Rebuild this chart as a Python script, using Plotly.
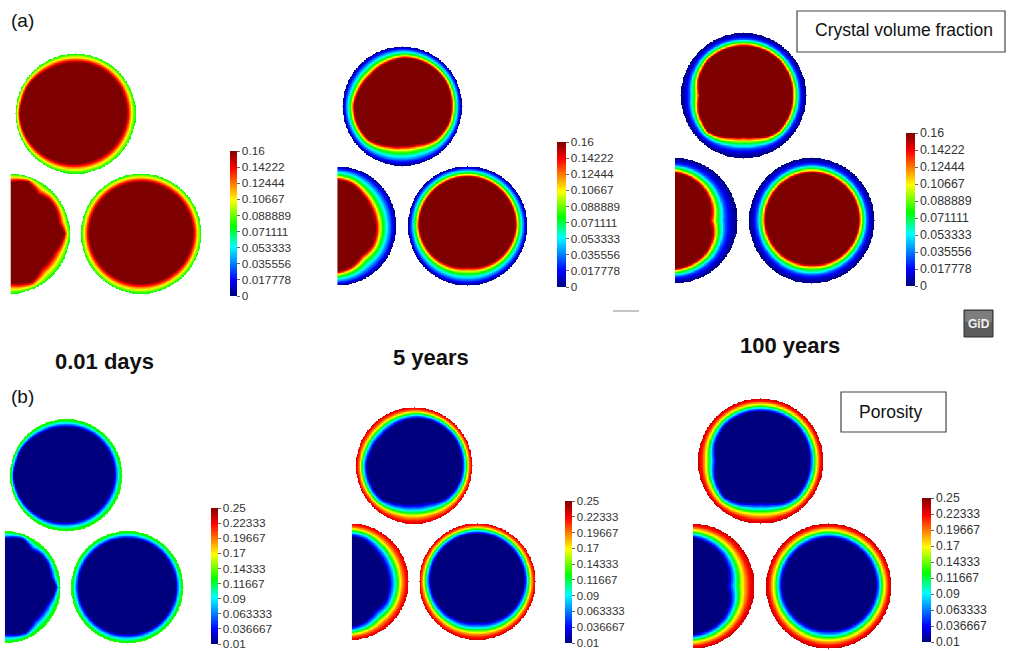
import numpy as np
import plotly.graph_objects as go

W, H = 1017, 651

# ---------------------------------------------------------------- data
TIME_LABELS = ["0.01 days", "5 years", "100 years"]

CRYSTAL_TICKS = [0, 0.017778, 0.035556, 0.053333, 0.071111,
                 0.088889, 0.10667, 0.12444, 0.14222, 0.16]
CRYSTAL_TICKTEXT = ["0", "0.017778", "0.035556", "0.053333", "0.071111",
                    "0.088889", "0.10667", "0.12444", "0.14222", "0.16"]
POROSITY_TICKS = [0.01, 0.036667, 0.063333, 0.09, 0.11667,
                  0.14333, 0.17, 0.19667, 0.22333, 0.25]
POROSITY_TICKTEXT = ["0.01", "0.036667", "0.063333", "0.09", "0.11667",
                     "0.14333", "0.17", "0.19667", "0.22333", "0.25"]

# reaction-rim thickness (fraction of grain radius) against polar angle (deg)
RIM_0_01D = {
    "top": ([0, 30, 60, 90, 120, 150, 165, 180, 210, 240, 270, 300, 330],
            [0.155, 0.145, 0.145, 0.155, 0.145, 0.09, 0.095, 0.075, 0.105, 0.145, 0.17, 0.175, 0.17]),
    "left": ([-90, -65, -48, -23, 0, 12, 30, 42, 54, 70, 90],
             [0.19, 0.12, 0.23, 0.205, 0.09, 0.17, 0.14, 0.145, 0.205, 0.09, 0.155]),
    "right": ([0, 90, 180, 270], [0.145, 0.145, 0.145, 0.17]),
}
RIM_5Y = {
    "top": ([0, 30, 60, 87, 110, 135, 160, 178, 200, 225, 250, 270, 290, 315, 340],
            [0.19, 0.175, 0.185, 0.195, 0.235, 0.265, 0.235, 0.2, 0.2, 0.215, 0.315, 0.35, 0.335, 0.23, 0.19]),
    "left": ([-90, -70, -50, -30, -10, 10, 30, 50, 70, 90],
             [0.235, 0.285, 0.365, 0.335, 0.35, 0.365, 0.365, 0.335, 0.265, 0.235]),
    "right": ([0, 90, 180, 225, 270, 315], [0.205, 0.185, 0.2, 0.25, 0.315, 0.25]),
}
RIM_100Y = {
    "top": ([0, 45, 90, 135, 160, 180, 200, 225, 240, 255, 270, 285, 300, 315],
            [0.23, 0.21, 0.215, 0.21, 0.25, 0.31, 0.25, 0.2, 0.255, 0.32, 0.345, 0.32, 0.255, 0.22]),
    "left": ([-90, -45, -20, 0, 20, 45, 90],
             [0.24, 0.305, 0.37, 0.45, 0.395, 0.335, 0.24]),
    "right": ([0, 90, 180, 270], [0.255, 0.24, 0.27, 0.305]),
}

# value across the rim: depth (0 = grain surface, 1 = inner rim front) -> value
CRYSTAL_PROFILE_0_01D = ([0, 0.2, 0.4, 0.7, 1.0], [0.075, 0.09, 0.105, 0.135, 0.16])
CRYSTAL_PROFILE_5Y = ([0, 0.15, 0.35, 0.5, 0.65, 0.77, 0.9, 1.0],
                      [0.0, 0.015, 0.04, 0.06, 0.08, 0.105, 0.14, 0.16])
CRYSTAL_PROFILE_100Y = ([0, 0.2, 0.45, 0.57, 0.7, 0.82, 0.92, 1.0],
                        [0.0, 0.008, 0.03, 0.055, 0.075, 0.105, 0.14, 0.16])
POROSITY_PROFILE_0_01D = ([0, 0.25, 0.5, 0.75, 1.0], [0.135, 0.12, 0.085, 0.045, 0.01])
POROSITY_PROFILE_5Y = ([0, 0.15, 0.3, 0.4, 0.5, 0.62, 0.75, 0.88, 1.0],
                       [0.23, 0.215, 0.19, 0.165, 0.135, 0.1, 0.065, 0.035, 0.01])
POROSITY_PROFILE_100Y = ([0, 0.2, 0.33, 0.45, 0.55, 0.67, 0.8, 0.92, 1.0],
                         [0.235, 0.215, 0.19, 0.165, 0.135, 0.1, 0.06, 0.03, 0.01])

# ---------------------------------------------------------------- styling
JET = [[0.0, "#00007f"], [0.11, "#0000ff"], [0.34, "#00ffff"], [0.48, "#00ff00"],
       [0.66, "#ffff00"], [0.88, "#ff0000"], [1.0, "#7f0000"]]
FONT = "Liberation Sans, Arial, sans-serif"

# grain centres in units of the grain radius
GRAIN_CENTRES = {"top": (0.0, 0.0), "left": (-1.10, -2.0), "right": (1.09, -2.0)}

# panel placement: top grain centre (px), radius (px), left clip (radius units)
PANELS = [
    dict(cx=75.5, cy=113.5, R=60.0, xlo=-1.08, rim=RIM_0_01D, prof=CRYSTAL_PROFILE_0_01D, var="c"),
    dict(cx=402.5, cy=106.5, R=59.7, xlo=-1.09, rim=RIM_5Y, prof=CRYSTAL_PROFILE_5Y, var="c"),
    dict(cx=743.5, cy=95.5, R=62.5, xlo=-1.096, rim=RIM_100Y, prof=CRYSTAL_PROFILE_100Y, var="c"),
    dict(cx=66.0, cy=475.0, R=56.0, xlo=-1.09, rim=RIM_0_01D, prof=POROSITY_PROFILE_0_01D, var="p"),
    dict(cx=414.0, cy=465.5, R=58.0, xlo=-1.07, rim=RIM_5Y, prof=POROSITY_PROFILE_5Y, var="p"),
    dict(cx=760.5, cy=461.0, R=62.5, xlo=-1.08, rim=RIM_100Y, prof=POROSITY_PROFILE_100Y, var="p"),
]
# colour bars: left (px), top (px), length (px), thickness (px), label size
COLORBARS = [
    (230, 151, 145, 7, 11.8),
    (557, 142, 145, 9, 11.8),
    (906, 133, 153, 9, 12.4),
    (211, 508, 136, 6.5, 11.8),
    (565, 501, 142, 7, 11.5),
    (922, 498, 144, 9, 12.2),
]
XHI, YLO, YHI = 2.2, -3.02, 1.02


def grain_field(angles, rim, prof, n=181):
    g = np.linspace(-1.0, 1.0, n)
    X, Y = np.meshgrid(g, g)
    r = np.hypot(X, Y)
    theta = np.degrees(np.arctan2(Y, X)) % 360.0
    thick = np.interp(theta, angles, rim, period=360.0)
    depth = (1.0 - r) / thick
    z = np.interp(depth, prof[0], prof[1])
    z[r > 1.0] = np.nan
    return g, z.astype(np.float32)


fig = go.Figure()
layout_axes = {}

for k, p in enumerate(PANELS):
    idx = k + 1
    xs = "" if idx == 1 else str(idx)
    ca = "coloraxis" if idx == 1 else f"coloraxis{idx}"
    R = p["R"]
    x0px, x1px = p["cx"] + p["xlo"] * R, p["cx"] + XHI * R
    ytop, ybot = p["cy"] - YHI * R, p["cy"] - YLO * R
    layout_axes[f"xaxis{xs}"] = dict(domain=[x0px / W, x1px / W], range=[p["xlo"], XHI],
                                     visible=False, anchor=f"y{xs}")
    layout_axes[f"yaxis{xs}"] = dict(domain=[1 - ybot / H, 1 - ytop / H], range=[YLO, YHI],
                                     visible=False, anchor=f"x{xs}")
    for name, (gx, gy) in GRAIN_CENTRES.items():
        angles, rim = p["rim"][name]
        g, z = grain_field(angles, rim, p["prof"])
        fig.add_trace(go.Heatmap(
            z=z, x0=gx + g[0], dx=g[1] - g[0], y0=gy + g[0], dy=g[1] - g[0],
            coloraxis=ca, xaxis=f"x{xs}", yaxis=f"y{xs}", hoverinfo="skip",
        ))
    bx, by, blen, bth, bfs = COLORBARS[k]
    if p["var"] == "c":
        tv, tt, cmin, cmax = CRYSTAL_TICKS, CRYSTAL_TICKTEXT, 0.0, 0.16
    else:
        tv, tt, cmin, cmax = POROSITY_TICKS, POROSITY_TICKTEXT, 0.01, 0.25
    layout_axes[ca] = dict(
        colorscale=JET, cmin=cmin, cmax=cmax,
        colorbar=dict(
            x=bx / W, xanchor="left", xpad=0, y=1 - by / H, yanchor="top", ypad=0,
            len=blen, lenmode="pixels", thickness=bth, thicknessmode="pixels",
            outlinewidth=0, tickmode="array", tickvals=tv, ticktext=tt,
            ticks="outside", ticklen=3, tickwidth=1, tickcolor="#666",
            ticklabeloverflow="allow",
            tickfont=dict(size=bfs, color="#333", family=FONT),
        ),
    )

fig.update_layout(**layout_axes)

annotations = [
    dict(text="(a)", x=9, y=21, size=19, bold=False, anchor="left"),
    dict(text="(b)", x=9, y=396, size=19, bold=False, anchor="left"),
    dict(text=TIME_LABELS[0], x=104, y=361, size=22, bold=True, anchor="center"),
    dict(text=TIME_LABELS[1], x=431, y=357, size=22, bold=True, anchor="center"),
    dict(text=TIME_LABELS[2], x=790, y=345, size=22, bold=True, anchor="center"),
    dict(text="Crystal volume fraction", x=813, y=30, size=17.5, bold=False, anchor="left"),
    dict(text="Porosity", x=857, y=412, size=17.5, bold=False, anchor="left"),
]
for a in annotations:
    txt = f"<b>{a['text']}</b>" if a["bold"] else a["text"]
    fig.add_annotation(text=txt, x=a["x"] / W, y=1 - a["y"] / H, xref="paper", yref="paper",
                       xanchor=a["anchor"], yanchor="middle", showarrow=False,
                       font=dict(size=a["size"], color="#111", family=FONT))

shapes = [
    dict(type="rect", x0=797, x1=1005, y0=11, y1=52, line=dict(color="#444", width=1.2)),
    dict(type="rect", x0=841, x1=946, y0=392, y1=432, line=dict(color="#444", width=1.2)),
    dict(type="line", x0=613, x1=639, y0=311, y1=311, line=dict(color="#8a8a8a", width=1)),
    dict(type="rect", x0=964, x1=993, y0=310, y1=337, fillcolor="#5c5c5c",
         line=dict(color="#2e2e2e", width=1)),
    dict(type="rect", x0=965, x1=992, y0=311, y1=322, fillcolor="#8c8c8c",
         line=dict(width=0), opacity=0.7),
]
for s in shapes:
    s = dict(s)
    s["x0"], s["x1"] = s["x0"] / W, s["x1"] / W
    s["y0"], s["y1"] = 1 - s["y0"] / H, 1 - s["y1"] / H
    fig.add_shape(xref="paper", yref="paper", **s)

fig.add_annotation(text="<b>GiD</b>", x=978.5 / W, y=1 - 324 / H, xref="paper", yref="paper",
                   showarrow=False, xanchor="center", yanchor="middle",
                   font=dict(size=12, color="#f2f2f2", family=FONT))

fig.update_layout(
    width=W, height=H, margin=dict(l=0, r=0, t=0, b=0),
    paper_bgcolor="white", plot_bgcolor="rgba(0,0,0,0)", showlegend=False,
)

fig.write_html("out.html")
